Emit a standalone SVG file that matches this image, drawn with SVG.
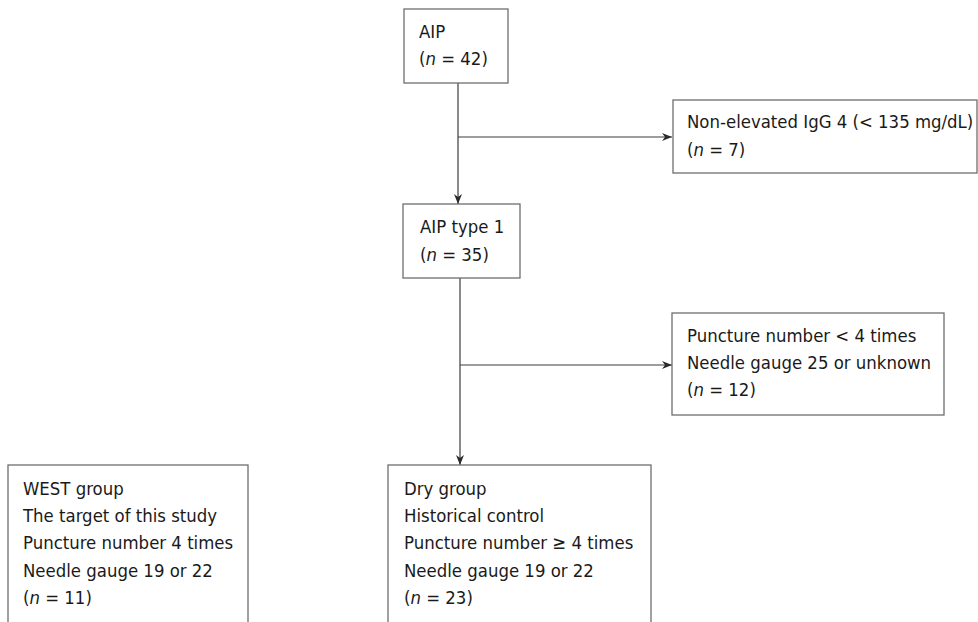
<svg xmlns="http://www.w3.org/2000/svg" width="978" height="622" viewBox="0 0 978 622">
<style>
.box{fill:#fff;stroke:#6e6e6e;stroke-width:1.3}
.t{font-family:"DejaVu Sans Condensed","Liberation Sans",sans-serif;font-size:18.4px;fill:#1a1a1a}
.i{font-style:italic}
.ln{stroke:#3c3c3c;stroke-width:1.2;fill:none}
</style>
<defs>
<marker id="ah" markerUnits="userSpaceOnUse" markerWidth="11" markerHeight="8" refX="10" refY="4" orient="auto">
<path d="M0,0 L10,4 L0,8 L3,4 z" fill="#2a2a2a"/>
</marker>
</defs>
<rect width="978" height="622" fill="#fff"/>
<g id="connectors">
<line class="ln" x1="458" y1="83" x2="458" y2="204" marker-end="url(#ah)"/>
<line class="ln" x1="458" y1="137" x2="672" y2="137" marker-end="url(#ah)"/>
<line class="ln" x1="460" y1="278" x2="460" y2="465" marker-end="url(#ah)"/>
<line class="ln" x1="460" y1="365" x2="672" y2="365" marker-end="url(#ah)"/>
</g>
<g id="aip">
<rect class="box" x="404" y="9" width="104" height="74"/>
<text class="t" x="419" y="38">AIP</text>
<text class="t" x="419" y="65">(<tspan class="i">n</tspan> = 42)</text>
</g>
<g id="nonelevated">
<rect class="box" x="673" y="100" width="304" height="73"/>
<text class="t" x="687" y="128">Non-elevated IgG 4 (&lt; 135 mg/dL)</text>
<text class="t" x="687" y="156">(<tspan class="i">n</tspan> = 7)</text>
</g>
<g id="aiptype1">
<rect class="box" x="403" y="204" width="117" height="74"/>
<text class="t" x="420" y="233">AIP type 1</text>
<text class="t" x="420" y="261">(<tspan class="i">n</tspan> = 35)</text>
</g>
<g id="excluded">
<rect class="box" x="672" y="313" width="272" height="102"/>
<text class="t" x="687" y="342">Puncture number &lt; 4 times</text>
<text class="t" x="687" y="369">Needle gauge 25 or unknown</text>
<text class="t" x="687" y="396">(<tspan class="i">n</tspan> = 12)</text>
</g>
<g id="west">
<rect class="box" x="8" y="465" width="240" height="170"/>
<text class="t" x="23" y="495">WEST group</text>
<text class="t" x="23" y="522">The target of this study</text>
<text class="t" x="23" y="549">Puncture number 4 times</text>
<text class="t" x="23" y="577">Needle gauge 19 or 22</text>
<text class="t" x="23" y="604">(<tspan class="i">n</tspan> = 11)</text>
</g>
<g id="dry">
<rect class="box" x="388" y="465" width="263" height="170"/>
<text class="t" x="404" y="495">Dry group</text>
<text class="t" x="404" y="522">Historical control</text>
<text class="t" x="404" y="549">Puncture number ≥ 4 times</text>
<text class="t" x="404" y="577">Needle gauge 19 or 22</text>
<text class="t" x="404" y="604">(<tspan class="i">n</tspan> = 23)</text>
</g>
</svg>
